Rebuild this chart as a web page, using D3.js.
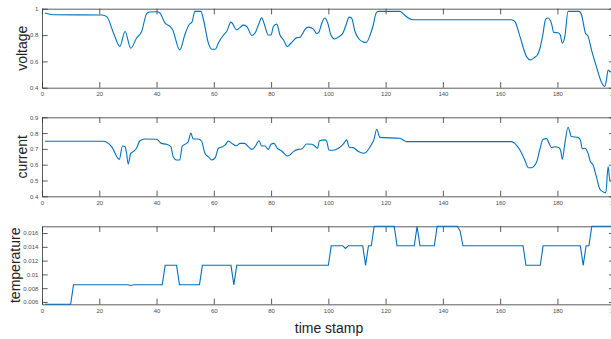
<!DOCTYPE html>
<html>
<head>
<meta charset="utf-8">
<script src="https://cdn.jsdelivr.net/npm/d3@7"></script>
<style>
body { margin: 0; background: #fff; }
svg { display: block; font-family: "Liberation Sans", Arial, sans-serif; }
.axis .tick text { fill: #4d4d4d; font-size: 6px; }
.axis path, .axis line { stroke: #333; stroke-width: 0.8; }
.axisText { font-size: 14px; fill: #222; }
</style>
</head>
<body>
<div id="chart"></div>
<script>
// tick values
var xTicks = [0, 20, 40, 60, 80, 100, 120, 140, 160, 180, 200];
var voltageTicks = [0.4, 0.6, 0.8, 1];
var currentTicks = [0.4, 0.5, 0.6, 0.7, 0.8, 0.9];
var tempTicks = [0.006, 0.008, 0.01, 0.012, 0.014, 0.016];

// voltage series
var voltageT = [1, 4, 21, 22.6, 25, 27.2, 29, 31, 33, 34.8, 36.5, 37.5, 40, 41, 43, 44.7, 45.6, 48.1, 50, 51.4,
  52.4, 53.4, 55.5, 56.4, 58.1, 59.3, 60.5, 61.6, 63.4, 64.5, 66, 68, 69.2, 70.3, 71.5, 73.3, 74.4, 75.6, 76.7, 77.9,
  79, 80, 80.8, 82, 83.1, 84.3, 85.7, 86.6, 87.8, 89, 90.1, 90.7, 91.9, 93, 94.8, 95.9, 96.7, 97.7, 98.8, 99.8,
  100.9, 102.1, 103.5, 105.2, 106.2, 107.3, 108.1, 109.3, 110.7, 112.3, 113.2, 114.6, 115.7, 116.7, 117.5, 125, 126.2, 127.9, 129.7, 164,
  165.1, 166.9, 169.2, 170.6, 172.1, 173, 173.8, 174.8, 175.9, 176.7, 177.9, 178.7, 180.2, 181, 181.7, 182.6, 183.7, 187.6, 188.4, 189.8,
  190.7, 191.9, 193.6, 195.3, 196.5, 197.1, 197.7, 198.5, 200];
var voltageV = [0.967, 0.954, 0.952, 0.94, 0.814, 0.713, 0.827, 0.70, 0.776, 0.827, 0.96, 0.975, 0.977, 0.972, 0.89, 0.865, 0.84, 0.687, 0.81, 0.88,
  0.90, 0.98, 0.98, 0.916, 0.738, 0.692, 0.692, 0.74, 0.80, 0.827, 0.898, 0.84, 0.858, 0.875, 0.865, 0.797, 0.815, 0.878, 0.93, 0.865,
  0.80, 0.80, 0.865, 0.883, 0.80, 0.764, 0.713, 0.73, 0.758, 0.78, 0.782, 0.80, 0.845, 0.86, 0.845, 0.81, 0.822, 0.89, 0.929, 0.89,
  0.80, 0.77, 0.784, 0.82, 0.878, 0.936, 0.929, 0.827, 0.77, 0.746, 0.744, 0.80, 0.878, 0.967, 0.98, 0.98, 0.96, 0.93, 0.916, 0.916,
  0.903, 0.79, 0.636, 0.611, 0.631, 0.649, 0.692, 0.79, 0.92, 0.929, 0.89, 0.82, 0.817, 0.80, 0.738, 0.79, 0.98, 0.98, 0.954, 0.814,
  0.79, 0.687, 0.56, 0.446, 0.41, 0.457, 0.535, 0.52, 0.52];

// current series
var currentT = [1, 21.4, 22.6, 24.3, 27, 28.1, 29, 29.5, 30.1, 31, 31.9, 33, 34.2, 35.9, 40, 41.7, 43.5, 45, 45.8, 47,
  48.1, 49, 50.5, 51, 52, 52.8, 54.5, 55.7, 56.9, 58.4, 59.3, 60.5, 61.6, 63.1, 64, 65.1, 66.3, 67.8, 69.2, 70.7,
  72.1, 73.3, 74.4, 75.8, 76.7, 77.9, 79, 80, 81, 82.2, 83.7, 85.7, 86.6, 87.8, 89.5, 90.7, 92.4, 94.2, 95.3, 96.2,
  96.9, 98.8, 99.4, 100.2, 101.7, 103.5, 105.2, 106.4, 107.3, 108.7, 110.5, 112.3, 113.4, 115.1, 115.9, 116.9, 118, 125, 127.3, 164,
  165.1, 166.9, 168.6, 169.8, 170.9, 172.7, 173.8, 175, 176.2, 177.1, 177.9, 179.1, 180.6, 181.2, 181.7, 182.6, 183.7, 184.9, 187.2, 188,
  188.7, 189.5, 190.7, 191.5, 192.4, 193.6, 194.8, 196.2, 196.9, 197.7, 198.3, 200];
var currentV = [0.748, 0.748, 0.742, 0.714, 0.634, 0.718, 0.714, 0.676, 0.605, 0.672, 0.683, 0.704, 0.752, 0.763, 0.761, 0.735, 0.729, 0.714, 0.651, 0.63,
  0.63, 0.718, 0.735, 0.742, 0.80, 0.763, 0.763, 0.75, 0.672, 0.645, 0.63, 0.645, 0.704, 0.714, 0.725, 0.75, 0.735, 0.72, 0.735, 0.735,
  0.714, 0.697, 0.714, 0.752, 0.718, 0.718, 0.697, 0.729, 0.735, 0.704, 0.687, 0.655, 0.662, 0.683, 0.697, 0.699, 0.731, 0.729, 0.718, 0.704,
  0.752, 0.757, 0.75, 0.693, 0.691, 0.704, 0.731, 0.757, 0.71, 0.708, 0.683, 0.672, 0.683, 0.729, 0.757, 0.824, 0.773, 0.767, 0.746, 0.746,
  0.735, 0.693, 0.63, 0.581, 0.581, 0.615, 0.693, 0.761, 0.765, 0.735, 0.708, 0.714, 0.708, 0.683, 0.634, 0.735, 0.837, 0.778, 0.773, 0.757,
  0.70, 0.704, 0.672, 0.62, 0.60, 0.524, 0.446, 0.425, 0.423, 0.588, 0.503, 0.50];

// temperature series (stepwise)
var tempT = [1, 10, 11, 30, 31, 32, 42, 43, 47, 48, 55, 56, 66, 67, 68, 100, 101, 105, 106, 107,
  112, 113, 114, 115, 116, 123, 124, 130, 131, 132, 137, 138, 145, 146, 147, 168, 169, 174, 175, 188,
  189, 190, 191, 192, 200];
var tempV = [0.00566, 0.00566, 0.00849, 0.00849, 0.00839, 0.00849, 0.00849, 0.01132, 0.01132, 0.00849, 0.00849, 0.01132, 0.01132, 0.00849, 0.01132, 0.01132, 0.01415, 0.01415, 0.01376, 0.01415,
  0.01415, 0.01132, 0.01415, 0.01415, 0.01698, 0.01698, 0.01415, 0.01415, 0.01698, 0.01415, 0.01415, 0.01698, 0.01698, 0.0163, 0.01415, 0.01415, 0.01132, 0.01132, 0.01415, 0.01415,
  0.01132, 0.01415, 0.01415, 0.01698, 0.01698];

var svgWidth = 611;
var svgHeight = 339;

var svg = d3.select("#chart").append("svg")
    .attr("width", svgWidth)
    .attr("height", svgHeight);

var xLinearScale = d3.scaleLinear()
    .domain([0, 200])
    .range([42, 614.7]);

var tick = 5.7;

var panels = [
  {name: "voltage", t: voltageT, v: voltageV, ticks: voltageTicks, domain: [0.4, 1], top: 8.7, bottom: 87.7,
   labelX: 27, curve: d3.curveMonotoneX},
  {name: "current", t: currentT, v: currentV, ticks: currentTicks, domain: [0.4, 0.9], top: 117.3, bottom: 196.3,
   labelX: 27, curve: d3.curveMonotoneX},
  {name: "temperature", t: tempT, v: tempV, ticks: tempTicks, domain: d3.extent(tempV), top: 226.3, bottom: 304.3,
   labelX: 20, curve: d3.curveLinear}
];

panels.forEach(function(p) {
    var yLinearScale = d3.scaleLinear()
        .domain(p.domain)
        .range([p.bottom, p.top]);

    // box axes with inward ticks
    svg.append("g").attr("class", "axis")
        .attr("transform", `translate(0, ${p.bottom})`)
        .call(d3.axisBottom(xLinearScale).tickValues(xTicks).tickSize(-tick).tickSizeOuter(0).tickPadding(4));

    svg.append("g").attr("class", "axis")
        .attr("transform", `translate(0, ${p.top})`)
        .call(d3.axisTop(xLinearScale).tickValues(xTicks).tickSize(-tick).tickSizeOuter(0).tickFormat(""));

    svg.append("g").attr("class", "axis")
        .attr("transform", "translate(42, 0)")
        .call(d3.axisLeft(yLinearScale).tickValues(p.ticks).tickSize(-tick).tickSizeOuter(0).tickPadding(3.7)
            .tickFormat(d3.format("~g")));

    svg.append("g").attr("class", "axis")
        .attr("transform", "translate(614.7, 0)")
        .call(d3.axisRight(yLinearScale).tickValues(p.ticks).tickSize(-tick).tickSizeOuter(0).tickFormat(""));

    var line = d3.line()
        .x((d, i) => xLinearScale(p.t[i]))
        .y(d => yLinearScale(d))
        .curve(p.curve);

    svg.append("path")
        .datum(p.v)
        .attr("d", line)
        .attr("fill", "none")
        .attr("stroke", "#0072BD")
        .attr("stroke-width", 1.1);

    var mid = (p.top + p.bottom) / 2;
    svg.append("text")
        .attr("class", "axisText")
        .attr("transform", `translate(${p.labelX}, ${mid}) rotate(-90)`)
        .attr("text-anchor", "middle")
        .text(p.name);
});

svg.append("text")
    .attr("class", "axisText")
    .attr("x", 329)
    .attr("y", 332.5)
    .attr("text-anchor", "middle")
    .text("time stamp");
</script>
</body>
</html>
